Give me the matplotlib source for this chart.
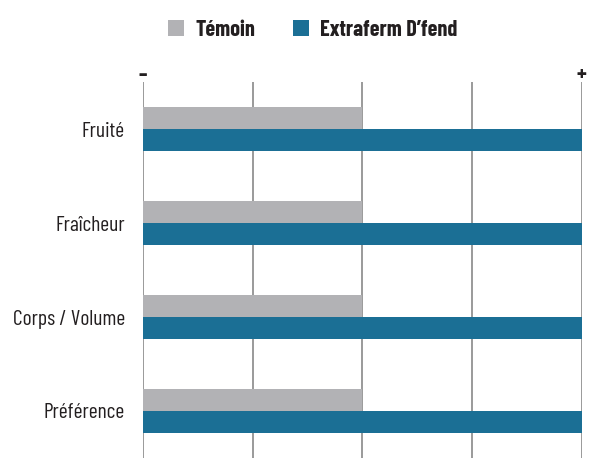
import matplotlib.pyplot as plt
import numpy as np

categories = ['Fruité', 'Fraîcheur', 'Corps / Volume', 'Préférence']
temoin = [2, 2, 2, 2]
extraferm = [4, 4, 4, 4]
series_names = ['Témoin', 'Extraferm D\u2019fend']
colors = ['#b2b2b5', '#1b6f95']

fam = ['Barlow Condensed', 'DejaVu Sans']
fig = plt.figure(figsize=(6.01, 4.69), dpi=100)
ax = fig.add_axes([0.238, 0.0235, 0.730, 0.8015])

y = np.arange(len(categories))
h = 0.235
ax.barh(y - h / 2, temoin, height=h, color=colors[0], label=series_names[0], zorder=2)
ax.barh(y + h / 2, extraferm, height=h, color=colors[1], label=series_names[1], zorder=2)

ax.set_xlim(0, 4)
ax.set_ylim(3.5, -0.5)
for x in range(5):
    ax.axvline(x, color='#9a9a9a', lw=1.4, zorder=1)
for s in ax.spines.values():
    s.set_visible(False)
ax.set_xticks([])
ax.set_yticks(y)
ax.set_yticklabels(categories, family=fam, fontsize=15.5, color='#231f20')
ax.tick_params(axis='y', length=0, pad=13)

ax.text(0, -0.575, '\u2013', ha='center', va='center', family=fam, fontsize=16, fontweight='bold', color='#231f20')
ax.text(4, -0.575, '+', ha='center', va='center', family=fam, fontsize=16, fontweight='bold', color='#231f20')

leg = fig.legend(loc='upper center', bbox_to_anchor=(0.52, 1.0), ncol=2, frameon=False,
                 handlelength=0.72, handleheight=0.72, handletextpad=0.5, columnspacing=1.7,
                 prop={'family': fam, 'weight': 'bold', 'size': 16})
for t in leg.get_texts():
    t.set_color('#231f20')

fig.savefig('out.png', dpi=100)
